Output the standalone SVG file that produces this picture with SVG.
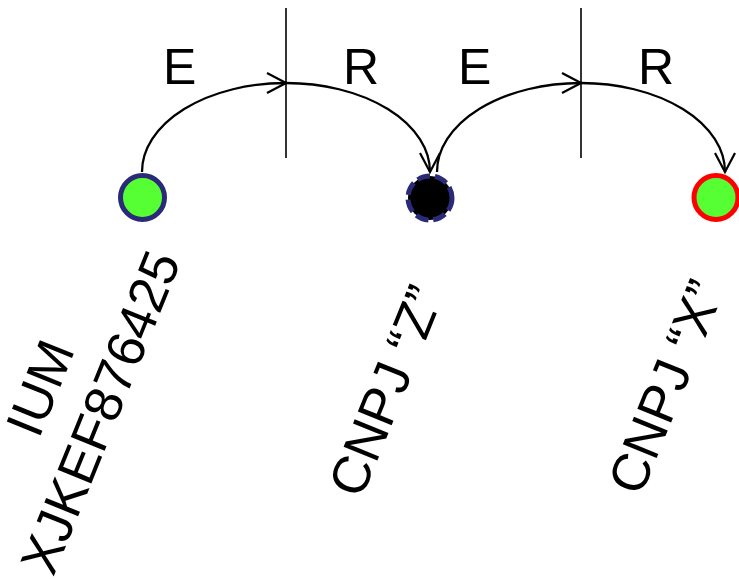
<svg xmlns="http://www.w3.org/2000/svg" width="739" height="579" viewBox="0 0 739 579">
<defs>
<marker id="open" markerWidth="24" markerHeight="24" viewBox="-22 -12 24 24" refX="0" refY="0" orient="auto" markerUnits="userSpaceOnUse">
<path d="M-19,-10 L0,0 L-19,10" fill="none" stroke="#000" stroke-width="2.2"/>
</marker>
</defs>
<style>
.lbl{font-family:"Liberation Sans",Arial,sans-serif;font-size:50px;fill:#000}
.rl{font-family:"Liberation Sans",Arial,sans-serif;font-size:53px;fill:#000;text-anchor:middle}
.tick{stroke:#000;stroke-width:1.6}
.arc{fill:none;stroke:#000;stroke-width:2.3;marker-end:url(#open)}
</style>
<rect width="739" height="579" fill="#fff"/>
<g id="dividers">
<line class="tick" x1="286" y1="8" x2="286" y2="158"/>
<line class="tick" x1="581" y1="8" x2="581" y2="158"/>
</g>
<g id="connectors">
<path class="arc" d="M142,172 A144,89 0 0 1 286,83"/>
<path class="arc" d="M286,83 A144,89 0 0 1 430,172"/>
<path class="arc" d="M437,172 A144,89 0 0 1 581,83"/>
<path class="arc" d="M581,83 A144,89 0 0 1 725,172"/>
</g>
<g id="labels">
<text class="lbl" x="163" y="84">E</text>
<text class="lbl" x="343" y="84">R</text>
<text class="lbl" x="458" y="84">E</text>
<text class="lbl" x="638" y="84">R</text>
</g>
<g id="node-ium">
<circle cx="142.5" cy="197.5" r="22" fill="#55FF33" stroke="#2A2A78" stroke-width="5"/>
<g transform="translate(70,400) rotate(-68)">
<text class="rl" x="0" y="-14">IUM</text>
<text class="rl" x="0" y="51">XJKEF876425</text>
</g>
</g>
<g id="node-z">
<circle cx="430" cy="198" r="22" fill="#000" stroke="#2A2A78" stroke-width="5" stroke-dasharray="13 5"/>
<g transform="translate(386,391) rotate(-68)">
<text class="rl" x="0" y="18">CNPJ “Z”</text>
</g>
</g>
<g id="node-x">
<circle cx="716" cy="197.5" r="22" fill="#55FF33" stroke="#FF0000" stroke-width="5"/>
<g transform="translate(666,387) rotate(-68)">
<text class="rl" x="0" y="18">CNPJ “X”</text>
</g>
</g>
</svg>
